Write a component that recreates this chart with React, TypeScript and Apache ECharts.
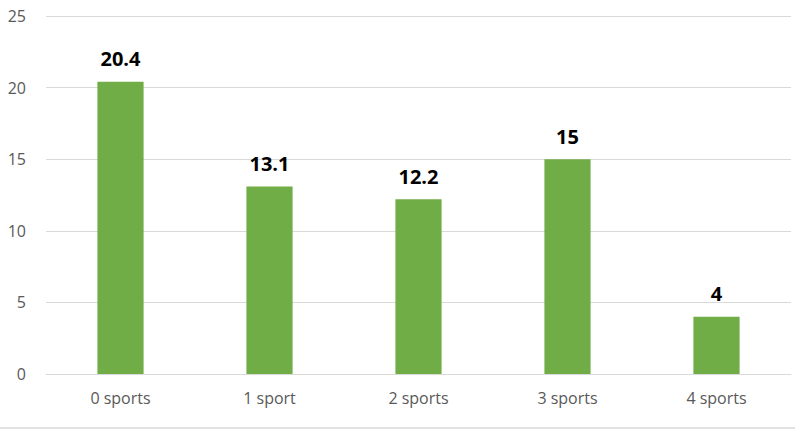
import React, { useEffect, useRef } from "react";
import * as echarts from "echarts";

const categories = ["0 sports", "1 sport", "2 sports", "3 sports", "4 sports"];
const values = [20.4, 13.1, 12.2, 15, 4];
const yTicks = [0, 5, 10, 15, 20, 25];

export default function App() {
  const ref = useRef<HTMLDivElement>(null);
  useEffect(() => {
    const chart = echarts.init(ref.current!, null, { renderer: "svg" });
    chart.setOption({
      animation: false,
      backgroundColor: "#ffffff",
      grid: { left: 46, right: 14, top: 16, bottom: 64 },
      xAxis: {
        type: "category",
        data: categories,
        axisLine: { show: true, lineStyle: { color: "#d9d9d9" } },
        axisTick: { show: false },
        axisLabel: { color: "#595959", fontSize: 16, fontFamily: "Open Sans", margin: 16 },
      },
      yAxis: {
        type: "value",
        min: yTicks[0],
        max: yTicks[yTicks.length - 1],
        interval: 5,
        axisLine: { show: false },
        axisTick: { show: false },
        splitLine: { lineStyle: { color: "#d9d9d9", width: 1 } },
        axisLabel: { color: "#595959", fontSize: 16, fontFamily: "Open Sans", margin: 20 },
      },
      series: [
        {
          type: "bar",
          data: values,
          barWidth: "31%",
          itemStyle: { color: "#70ad47" },
          label: {
            show: true,
            position: "top",
            distance: 13,
            color: "#000000",
            fontSize: 20,
            fontWeight: "bold",
            fontFamily: "Open Sans",
          },
        },
      ],
      graphic: [
        {
          type: "line",
          shape: { x1: 0, y1: 428, x2: 795, y2: 428 },
          style: { stroke: "#d9d9d9", lineWidth: 1.5 },
        },
      ],
    });
    return () => chart.dispose();
  }, []);
  return (
    <div
      ref={ref}
      style={{ position: "fixed", left: 0, top: 0, width: 805, height: 438 }}
    />
  );
}
